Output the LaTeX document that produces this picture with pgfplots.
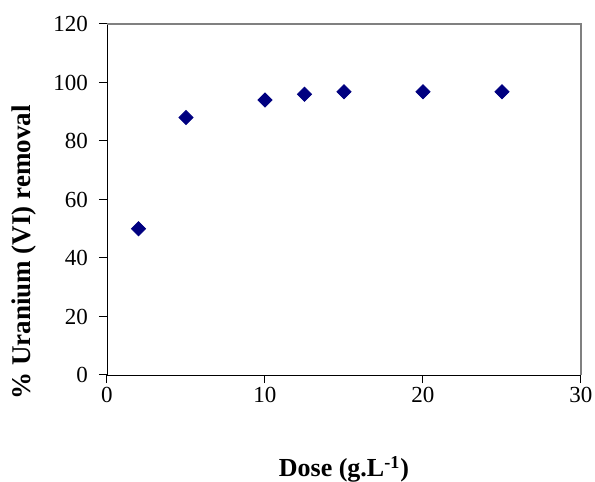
\documentclass[border=0pt]{standalone}
\usepackage{fontspec}
\setmainfont{Liberation Serif}
\usepackage{pgfplots}
\pgfplotsset{compat=1.18}
\definecolor{navymark}{HTML}{000080}
\definecolor{framegray}{HTML}{808080}

\begin{document}
\begin{tikzpicture}
\useasboundingbox (-53.5pt,-53.5pt) rectangle (244pt,187.5pt);
\begin{axis}[
  at={(0,0)},anchor=south west,
  scale only axis,width=237pt,height=175.5pt,
  xmin=0,xmax=30,ymin=0,ymax=120,
  xtick={0,10,20,30},ytick={0,20,...,120},
  axis lines=left,axis line style={black,-},
  tick align=outside,major tick length=4pt,
  tick style={black,line width=0.5pt},
  /pgf/number format/assume math mode=true,
  tick label style={font=\fontsize{11.5}{13}\selectfont},
  xticklabel style={anchor=base,yshift=-10pt},
  yticklabel style={anchor=east,xshift=-2pt},
  xlabel={\textbf{Dose (g.L\textsuperscript{-1})}},
  ylabel={\textbf{\% Uranium (VI) removal}},
  xlabel style={font=\fontsize{13}{15}\selectfont,at={(axis description cs:0.5,0)},anchor=base,yshift=-51pt},
  ylabel style={font=\fontsize{13.5}{15}\selectfont,at={(axis description cs:-0.175,0.349)},anchor=center},
  clip=false
]
\draw[framegray,line width=0.6pt] (rel axis cs:0,1) -- (rel axis cs:1,1) -- (rel axis cs:1,0);
\addplot[only marks,mark=square*,mark size=2.5pt,
  mark options={rotate=45,fill=navymark,draw=navymark}] coordinates {
  (2,50) (5,88) (10,94) (12.5,96) (15,96.8) (20,96.8) (25,96.8)
};
\end{axis}
\end{tikzpicture}
\end{document}
